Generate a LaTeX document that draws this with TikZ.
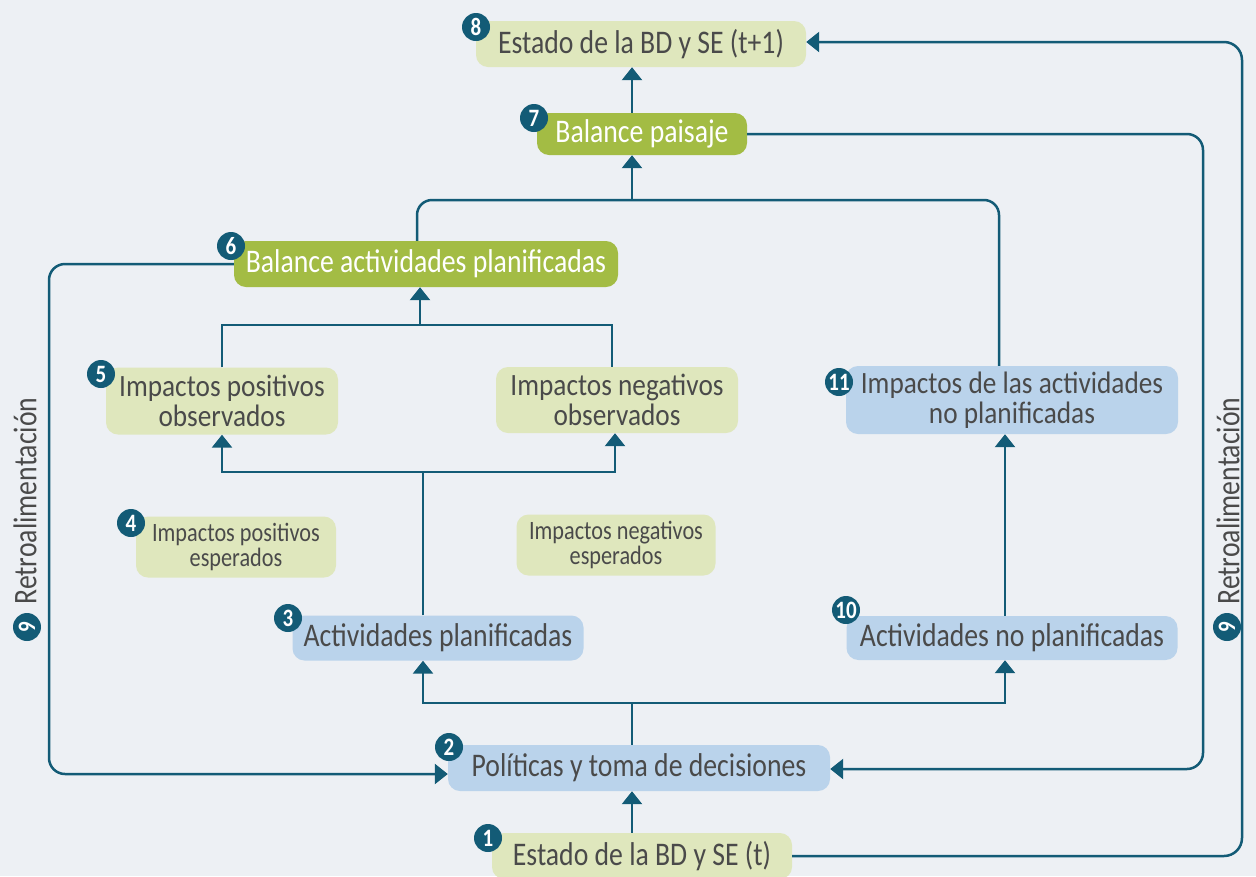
\documentclass[tikz,border=0pt]{standalone}
\usepackage{fontspec}
\setmainfont{Carlito}[FakeStretch=0.84]
\newfontfamily\twofont{Carlito}[FakeStretch=0.88]
\usetikzlibrary{arrows.meta}

\definecolor{bgc}{HTML}{EDF0F4}
\definecolor{linec}{HTML}{135B76}
\definecolor{palegreen}{HTML}{DFE7BD}
\definecolor{leafgreen}{HTML}{A3BC44}
\definecolor{skyblue}{HTML}{BAD3EB}
\definecolor{txt}{HTML}{4A4A4A}

\begin{document}
\begin{tikzpicture}[
  x=1pt,y=-1pt,
  box/.style={rounded corners=12pt,inner sep=0pt,align=center,text=txt,font=\fontsize{33}{28}\selectfont},
  pale/.style={box,fill=palegreen},
  leaf/.style={box,fill=leafgreen,text=white},
  sky/.style={box,fill=skyblue},
  twoline/.style={font=\twofont\fontsize{31}{29.5}\selectfont},
  small/.style={font=\fontsize{26.5}{25}\selectfont},
  badge/.style={circle,fill=linec,text=white,inner sep=0pt,minimum size=28pt,font=\fontsize{25}{25}\bfseries\selectfont},
  fb/.style={text=txt,font=\fontsize{33}{33}\selectfont,rotate=90},
  link/.style={draw=linec,line width=2.5pt},
  arr/.style={link,-{Triangle[width=20pt,length=13pt]}},
  loop/.style={arr,rounded corners=16pt}
]
  \useasboundingbox (0,0) rectangle (1256,876);
  \fill[bgc] (0,0) rectangle (1256,876);

  % boxes
  \node[pale,minimum width=330pt,minimum height=46pt] (est1) at (641,44) {Estado de la BD y SE (t+1)};
  \node[leaf,minimum width=210pt,minimum height=42pt] (balPai) at (642,134) {Balance paisaje};
  \node[leaf,minimum width=384pt,minimum height=46pt] (balAct) at (426,264) {Balance actividades planificadas};
  \node[pale,twoline,minimum width=232pt,minimum height=67pt] (posObs) at (222,401) {Impactos positivos\\observados};
  \node[pale,twoline,minimum width=242pt,minimum height=66pt] (negObs) at (617,400) {Impactos negativos\\observados};
  \node[sky,twoline,minimum width=332pt,minimum height=68pt] (impNo) at (1012,400) {Impactos de las actividades\\no planificadas};
  \node[pale,small,minimum width=200pt,minimum height=61pt] (posEsp) at (236,547) {Impactos positivos\\esperados};
  \node[pale,small,minimum width=199pt,minimum height=61pt] (negEsp) at (616,545) {Impactos negativos\\esperados};
  \node[sky,minimum width=291pt,minimum height=45pt] (actPlan) at (438,638) {Actividades planificadas};
  \node[sky,minimum width=331pt,minimum height=44pt] (actNo) at (1012,638) {Actividades no planificadas};
  \node[sky,minimum width=382pt,minimum height=46pt] (pol) at (639,768) {Políticas y toma de decisiones};
  \node[pale,minimum width=300pt,minimum height=46pt] (est0) at (642,856) {Estado de la BD y SE (t)};

  % feedback labels
  \node[fb] (fbL) at (25,501) {Retroalimentación};
  \node[fb] (fbR) at (1228,501) {Retroalimentación};

  % junctions
  \coordinate (spine) at (632,703);
  \coordinate (colA) at (423,472);
  \coordinate (colB) at (1005,0);
  \coordinate (mergeA) at (420,325);
  \coordinate (mergeB) at (632,200);
  \coordinate (colC) at (999,0);
  \coordinate (colD) at (417,0);

  \draw[arr] (est0.north -| spine) -- (pol.south -| spine);
  \draw[link] (pol.north -| spine) -- (spine);
  \draw[arr] (spine) -| (actPlan.south -| colA);
  \draw[arr] (spine) -| (actNo.south -| colB);

  \draw[link] (actPlan.north -| colA) -- (colA);
  \draw[arr] (colA) -| (posObs.south);
  \draw[arr] (colA) -| ([xshift=-2pt]negObs.south);

  \draw[link] (posObs.north) |- (mergeA) -| ([xshift=-5pt]negObs.north);
  \draw[arr] (mergeA) -- (balAct.south -| mergeA);

  \draw[arr] (actNo.north -| colB) -- (impNo.south -| colB);
  \draw[link,rounded corners=15pt] (impNo.north -| colC) |- (mergeB) -| (balAct.north -| colD);
  \draw[arr] (mergeB) -- (balPai.south -| mergeB);
  \draw[arr] (balPai.north -| mergeB) -- (est1.south -| mergeB);

  % feedback loops
  \draw[loop] (balPai.east) -| (1203,500) |- ([yshift=-1pt]pol.east);
  \draw[loop,rounded corners=18pt] (est0.east) -| (1242,500) |- ([yshift=2pt]est1.east);
  \draw[loop] (balAct.west) -| (49,500) |- ([yshift=-6pt]pol.west);

  % number badges
  \node[badge] (b1) at (488,838) {1};
  \node[badge] (b2) at (449,747) {2};
  \node[badge] (b3) at (288,618) {3};
  \node[badge] (b4) at (131,523) {4};
  \node[badge] (b5) at (101,374) {5};
  \node[badge] (b6) at (231,246) {6};
  \node[badge] (b7) at (534,118) {7};
  \node[badge] (b8) at (476,27) {8};
  \node[badge,rotate=90] (b9L) at (27,627) {9};
  \node[badge,rotate=90] (b9R) at (1227,627) {9};
  \node[badge] (b10) at (846,610) {10};
  \node[badge] (b11) at (839,382) {11};
\end{tikzpicture}
\end{document}
